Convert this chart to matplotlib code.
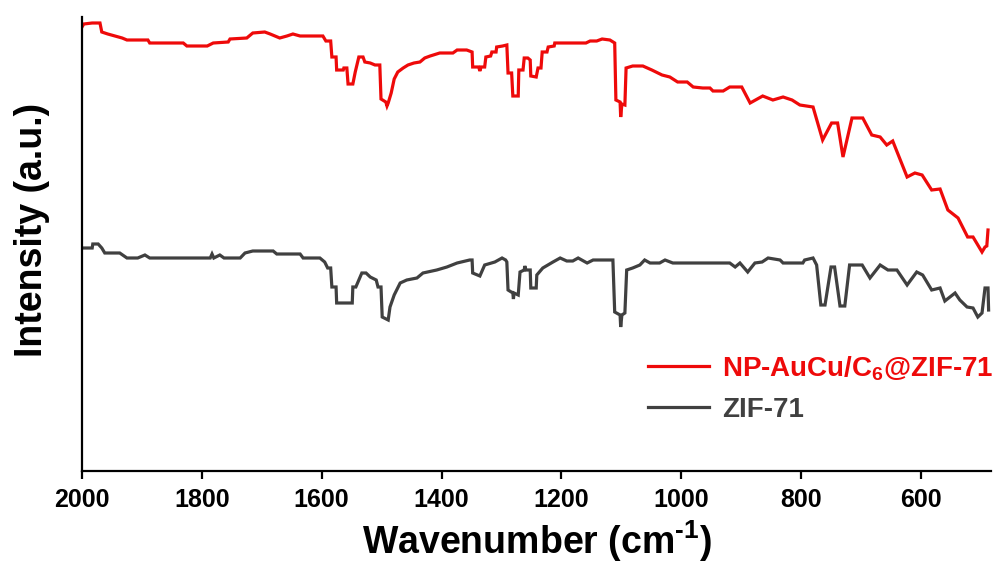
import matplotlib
matplotlib.use("Agg")
import matplotlib.pyplot as plt

# ---------------- data ----------------
wn_np = [2000, 1997, 1983, 1970, 1967, 1957, 1945, 1933, 1925, 1890, 1887, 1831, 1825, 1791,
         1781, 1756, 1753, 1725, 1715, 1695, 1686, 1670, 1658, 1648, 1636, 1598, 1593, 1585,
         1583, 1576, 1575, 1564, 1563, 1558, 1556, 1548, 1544, 1538, 1531, 1528, 1519, 1511,
         1503, 1501, 1493, 1491, 1489, 1484, 1479, 1473, 1464, 1456, 1446, 1436, 1428, 1419,
         1403, 1381, 1374, 1358, 1349, 1348, 1338, 1336, 1334, 1328, 1326, 1318, 1316, 1309,
         1308, 1298, 1291, 1289, 1283, 1281, 1272, 1271, 1264, 1262, 1256, 1252, 1251, 1242,
         1239, 1234, 1232, 1224, 1222, 1212, 1211, 1159, 1152, 1141, 1132, 1119, 1111, 1109,
         1102, 1101, 1099, 1094, 1092, 1081, 1064, 1049, 1032, 1019, 1006, 990, 980, 964, 952,
         947, 930, 919, 899, 885, 864, 847, 830, 815, 802, 780, 764, 749, 739, 730, 715, 697,
         682, 668, 657, 647, 623, 610, 598, 582, 568, 555, 538, 522, 513, 498, 493, 490, 488]
int_np = [444, 447, 448, 448, 439, 437, 435, 433, 431, 431, 428, 428, 425, 425,
          428, 429, 432, 433, 438, 439, 437, 433, 435, 437, 435, 435, 430, 430,
          414, 414, 401, 401, 403, 403, 387, 387, 399, 414, 414, 409, 408, 406,
          406, 372, 369, 365, 368, 378, 392, 399, 403, 406, 408, 409, 413, 415,
          418, 418, 421, 421, 419, 404, 404, 400, 404, 404, 414, 415, 419, 419,
          424, 425, 426, 398, 398, 375, 375, 401, 401, 413, 413, 411, 395, 394,
          403, 403, 419, 419, 424, 425, 428, 428, 430, 430, 432, 431, 428, 371,
          369, 354, 367, 366, 403, 405, 405, 401, 396, 394, 389, 389, 384, 383, 383,
          380, 380, 384, 384, 368, 375, 371, 374, 371, 366, 364, 331, 348, 348, 314, 353, 353,
          336, 334, 326, 330, 294, 298, 296, 281, 282, 261, 253, 234, 234, 219, 224, 225, 241]

wn_zif = [2000, 1983, 1982, 1973, 1967, 1962, 1937, 1925, 1907, 1895, 1887, 1786, 1783, 1780,
          1770, 1763, 1736, 1728, 1715, 1681, 1675, 1636, 1631, 1603, 1595, 1590, 1585, 1583,
          1576, 1575, 1549, 1548, 1543, 1533, 1526, 1519, 1509, 1506, 1501, 1499, 1489, 1486,
          1479, 1469, 1458, 1441, 1431, 1408, 1391, 1374, 1353, 1349, 1348, 1336, 1328, 1311,
          1299, 1293, 1291, 1289, 1281, 1280, 1279, 1272, 1269, 1262, 1261, 1259, 1252, 1251,
          1242, 1241, 1231, 1214, 1202, 1191, 1181, 1172, 1157, 1147, 1114, 1111, 1102, 1101,
          1099, 1094, 1091, 1081, 1069, 1061, 1052, 1036, 1027, 1014, 919, 910, 902, 889, 877,
          865, 855, 835, 830, 797, 794, 780, 774, 767, 760, 750, 744, 735, 727, 719, 698, 685,
          668, 655, 640, 623, 607, 597, 582, 568, 560, 543, 535, 523, 513, 505, 498, 493, 488, 487]
int_zif = [223, 223, 227, 227, 223, 218, 218, 213, 213, 216, 213, 213, 217, 213,
           216, 213, 213, 218, 220, 220, 217, 217, 213, 213, 209, 203, 203, 184,
           184, 168, 168, 184, 184, 198, 198, 194, 191, 184, 184, 154, 151, 164,
           176, 188, 191, 193, 198, 201, 204, 208, 211, 211, 198, 195, 206, 209,
           213, 211, 209, 181, 178, 172, 178, 176, 199, 201, 205, 201, 201, 183,
           183, 196, 203, 209, 213, 210, 210, 213, 208, 211, 211, 159, 156, 144,
           156, 158, 201, 203, 206, 211, 208, 208, 211, 208, 208, 204, 208, 199, 208,
           209, 213, 211, 208, 208, 211, 213, 206, 166, 166, 204, 204, 165, 165, 206, 206, 193,
           206, 201, 201, 186, 199, 196, 181, 183, 170, 178, 171, 164, 163, 154, 158, 183, 183, 161]

labels = [r"NP-AuCu/C$_{\mathbf{6}}$@ZIF-71", "ZIF-71"]
colors = ["#ee0a0a", "#404040"]
xticks = [2000, 1800, 1600, 1400, 1200, 1000, 800, 600]

# ---------------- style ----------------
plt.rcParams["font.family"] = ["Liberation Sans", "DejaVu Sans"]
plt.rcParams["mathtext.fontset"] = "custom"
plt.rcParams["mathtext.rm"] = "Liberation Sans:bold"
plt.rcParams["mathtext.bf"] = "Liberation Sans:bold"

fig = plt.figure(figsize=(9.94, 5.67), dpi=100)
ax = fig.add_axes([82 / 994, (567 - 471) / 567, 909 / 994, (471 - 17) / 567])

ax.plot(wn_np, int_np, color=colors[0], lw=2.3, label=labels[0], solid_joinstyle="miter")
ax.plot(wn_zif, int_zif, color=colors[1], lw=2.3, label=labels[1], solid_joinstyle="miter")

ax.set_xlim(2000, 483)
ax.set_ylim(0, 454)
ax.set_xticks(xticks)
ax.set_xticklabels([str(t) for t in xticks], fontsize=18, fontweight="bold")
ax.set_yticks([])
for s in ["top", "right"]:
    ax.spines[s].set_visible(False)
for s in ["left", "bottom"]:
    ax.spines[s].set_linewidth(1.6)
ax.tick_params(axis="x", direction="out", length=6, width=1.6, pad=6)

ax.set_xlabel(r"Wavenumber (cm$^{\text{-1}}$)", fontsize=27, fontweight="bold", labelpad=5)
ax.set_ylabel("Intensity (a.u.)", fontsize=27, fontweight="bold")
ax.yaxis.set_label_coords(-0.035, 0.532)

leg = ax.legend(loc="upper left", bbox_to_anchor=(0.623, 0.258), frameon=False,
                prop={"weight": "bold", "size": 20}, handlelength=2.2,
                handletextpad=0.45, labelspacing=0.5, borderpad=0, borderaxespad=0)
for txt, c in zip(leg.get_texts(), colors):
    txt.set_color(c)

fig.savefig("out.png", dpi=100)
